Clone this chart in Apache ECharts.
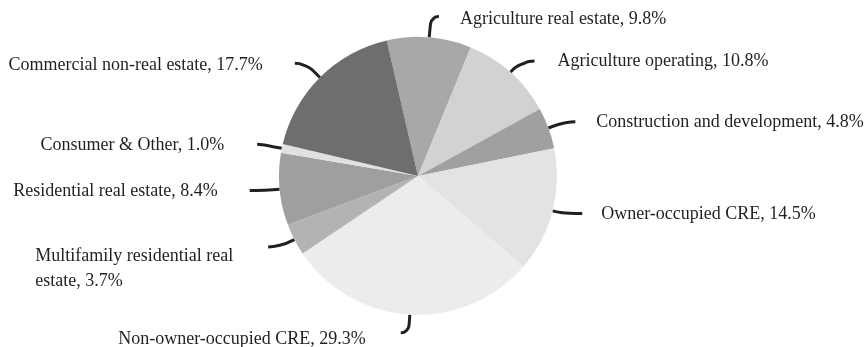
<!DOCTYPE html>
<html>
<head>
<meta charset="utf-8">
<script src="https://cdn.jsdelivr.net/npm/echarts@6/dist/echarts.min.js"></script>
<style>
  html, body { margin: 0; padding: 0; background: #ffffff; }
  #chart { width: 865px; height: 347px; }
</style>
</head>
<body>
<div id="chart"></div>
<script>
// Loan portfolio composition, clockwise from the top
const categories = [
  'Agriculture real estate',
  'Agriculture operating',
  'Construction and development',
  'Owner-occupied CRE',
  'Non-owner-occupied CRE',
  'Multifamily residential real\nestate',
  'Residential real estate',
  'Consumer & Other',
  'Commercial non-real estate'
];
const shares = [9.8, 10.8, 4.8, 14.5, 29.3, 3.7, 8.4, 1.0, 17.7];

const sliceColors = ['#a7a8aa', '#d1d2d3', '#9ea0a2', '#e2e3e4', '#ebecee', '#b2b3b5', '#9d9fa1', '#e0e1e3', '#6d6e70'];

// Guide line geometry per slice: radial part, horizontal part, gap to text
const guideRadial = [21, 15, 18, 10, 18, 16, 15, 20, 20];
const guideFlat   = [8, 14, 10, 20, 8, 12, 15, 5, 11];
const textGap     = [21, 23, 21, 19, 35, 35, 32, 33, 32];
// Extra top padding that lowers a label below its guide line
const textDrop    = [5, 0, 0, 2, 14, 43, 2, 2, 4];

const chart = echarts.init(document.getElementById('chart'), null, { renderer: 'canvas' });

const seriesData = categories.map((name, i) => ({
  name: name,
  value: shares[i],
  itemStyle: { color: sliceColors[i] },
  label: {
    distanceToLabelLine: textGap[i],
    padding: [textDrop[i], 0, 0, 0]
  },
  labelLine: { length: guideRadial[i], length2: guideFlat[i] }
}));

chart.setOption({
  animation: false,
  backgroundColor: '#ffffff',
  series: [{
    type: 'pie',
    center: [418, 176],
    radius: 139,
    startAngle: 103,
    clockwise: true,
    avoidLabelOverlap: false,
    silent: true,
    emphasis: { disabled: true },
    itemStyle: { borderWidth: 0 },
    label: {
      show: true,
      position: 'outside',
      formatter: p => '{t|' + p.name + ', ' + p.value.toFixed(1) + '%}',
      rich: {
        t: {
          fontFamily: '"Liberation Serif", "Times New Roman", serif',
          fontSize: 18,
          lineHeight: 25,
          color: '#231f20',
          align: 'left'
        }
      }
    },
    labelLine: {
      show: true,
      smooth: 0.6,
      lineStyle: { color: '#231f20', width: 3 }
    },
    data: seriesData
  }]
});
</script>
</body>
</html>
